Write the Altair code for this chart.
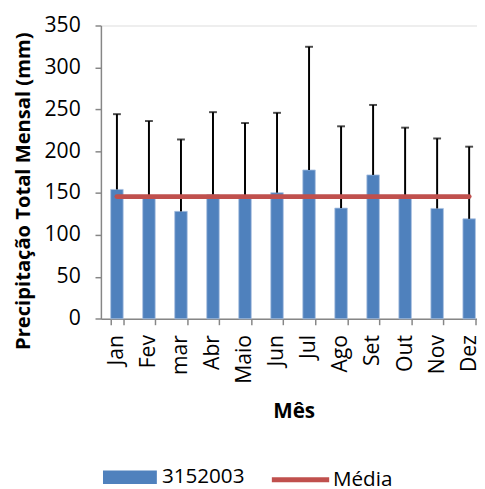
import altair as alt
import pandas as pd

meses = ["Jan", "Fev", "mar", "Abr", "Maio", "Jun", "Jul", "Ago", "Set", "Out", "Nov", "Dez"]
precip = [154.4, 147.0, 128.2, 148.0, 147.0, 150.5, 177.6, 132.1, 171.7, 147.0, 131.7, 119.3]
desvio = [89.8, 89.0, 85.8, 98.6, 86.6, 95.3, 147.0, 97.6, 83.5, 81.1, 83.5, 86.1]
MEDIA = 145.8
SERIE = "3152003"
LINHA = "Média"
Y_TITLE = "Precipitação Total Mensal (mm)"

df = pd.DataFrame({
    "mes": meses,
    "precip": precip,
    "desvio": desvio,
    "media": [MEDIA] * len(meses),
    "serie": [SERIE] * len(meses),
    "linha": [LINHA] * len(meses),
})

FONT = "Open Sans"
GRAY = "#868686"

x_enc = alt.X(
    "mes:N",
    sort=meses,
    scale=alt.Scale(range=[0, 390.8], paddingInner=0.61, paddingOuter=0.305),
    axis=alt.Axis(
        title="Mês",
        titleFontSize=21,
        titleFontWeight="bold",
        titleColor="black",
        titleFont=FONT,
        titleX=196,
        titleY=100,
        titleAlign="center",
        titleBaseline="alphabetic",
        labelAngle=270,
        labelFontSize=21.5,
        labelFont=FONT,
        labelColor="black",
        labelPadding=10,
        tickBand="extent",
        tickSize=6,
        tickColor=GRAY,
        domainColor=GRAY,
        tickWidth=1.5,
        domainWidth=1.5,
    ),
)

y_scale = alt.Scale(domain=[0, 350], nice=False)
y_axis = alt.Axis(
    title=Y_TITLE,
    values=[0, 50, 100, 150, 200, 250, 300, 350],
    grid=False,
    titleFontSize=20.5,
    titleFontWeight="bold",
    titleColor="black",
    titleFont=FONT,
    titleAngle=270,
    titleX=-79,
    titleY=168,
    titleAlign="center",
    titleBaseline="middle",
    labelFontSize=21.5,
    labelFont=FONT,
    labelColor="black",
    labelPadding=15,
    tickSize=6,
    tickColor=GRAY,
    domainColor=GRAY,
    tickWidth=1.5,
    domainWidth=1.5,
)

base = alt.Chart(df)

bars = base.mark_bar(stroke="#A9C1E0", strokeWidth=0.8).encode(
    x=x_enc,
    y=alt.Y("precip:Q", scale=y_scale, axis=y_axis, title=Y_TITLE),
    color=alt.Color(
        "serie:N",
        scale=alt.Scale(domain=[SERIE], range=["#4F81BD"]),
        legend=alt.Legend(
            title=None,
            orient="none",
            legendX=2,
            legendY=432,
            direction="horizontal",
            symbolType="M-1,-0.25H1V0.25H-1Z",
            symbolSize=3000,
            symbolStrokeWidth=0,
            labelFontSize=21,
            labelFont=FONT,
            labelColor="black",
            labelOffset=5,
            padding=0,
        ),
    ),
)

errs = base.transform_calculate(upper="datum.precip + datum.desvio").mark_rule(
    color="black", strokeWidth=2
).encode(
    x=alt.X("mes:N", sort=meses),
    y=alt.Y("precip:Q", title=Y_TITLE),
    y2="upper:Q",
)

caps = base.transform_calculate(upper="datum.precip + datum.desvio").mark_tick(
    color="black", size=8, thickness=2
).encode(
    x=alt.X("mes:N", sort=meses),
    y=alt.Y("upper:Q", title=Y_TITLE),
)

line = base.mark_line(strokeWidth=5, strokeCap="round").encode(
    x=alt.X("mes:N", sort=meses),
    y=alt.Y("media:Q", title=Y_TITLE),
    stroke=alt.Stroke(
        "linha:N",
        scale=alt.Scale(domain=[LINHA], range=["#C0504D"]),
        legend=alt.Legend(
            title=None,
            orient="none",
            legendX=171,
            legendY=430,
            direction="horizontal",
            symbolType="stroke",
            symbolSize=3400,
            symbolStrokeWidth=5,
            labelFontSize=21,
            labelFont=FONT,
            labelColor="black",
            labelOffset=1,
            padding=0,
        ),
    ),
)

chart = alt.layer(bars, errs, caps, line).properties(
    width=382.5,
    height=298.3,
    autosize=alt.AutoSizeParams(type="none"),
    padding={"left": 94.5, "top": 13.7, "right": 0, "bottom": 169},
).configure_view(stroke=None).configure(font=FONT)

chart.save("out.html", embed_options={"renderer": "svg", "actions": False})
